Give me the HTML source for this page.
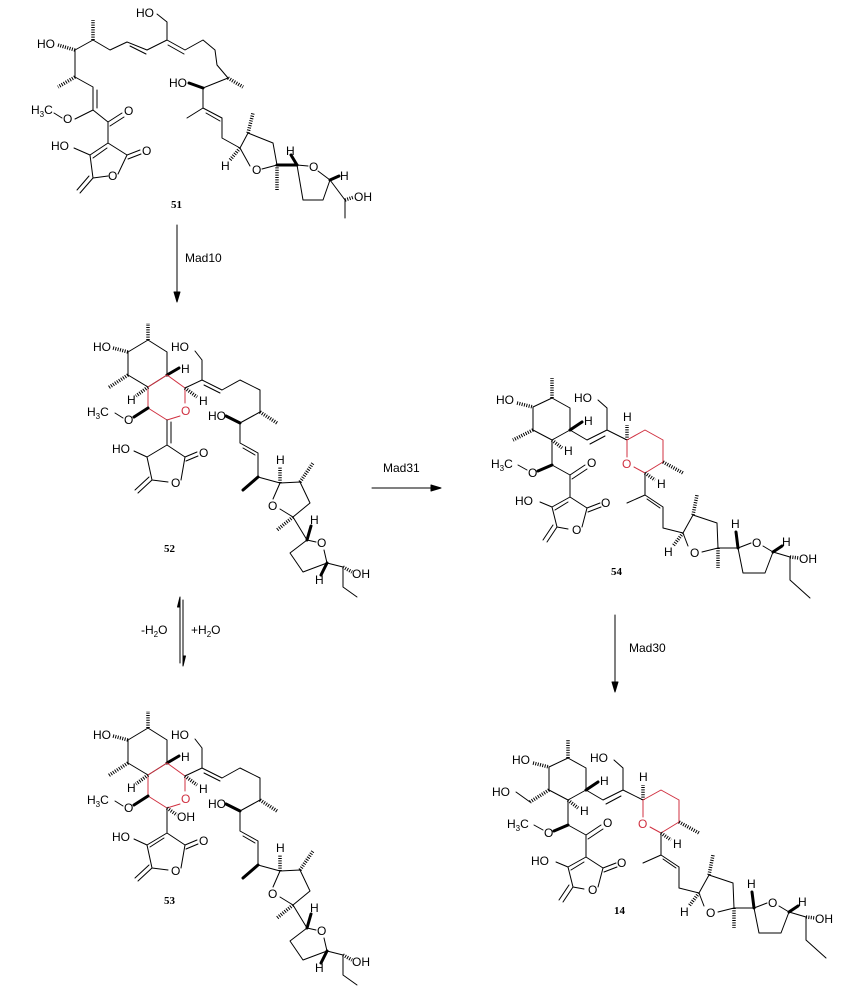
<!DOCTYPE html>
<html><head><meta charset="utf-8"><style>
html,body{margin:0;padding:0;background:#fff}
svg{display:block}
line,polyline,polygon{stroke:#000;stroke-width:1;fill:none;stroke-linecap:round;stroke-linejoin:round}
.r{stroke:#d03040}
.h{stroke-width:3.5;stroke-dasharray:1 1.4;stroke-linecap:butt}
.w{stroke-width:3}
text{font-family:"Liberation Sans",sans-serif;font-size:12px;fill:#000}
.ro{fill:#d03040}
.lb{font-family:"Liberation Serif",serif;font-weight:bold;font-size:11px}
</style></head><body>
<svg width="852" height="1007" viewBox="0 0 852 1007" xmlns="http://www.w3.org/2000/svg">
<!-- ===== 51 ===== -->
<g>
<text x="37" y="48">HO</text>
<line class="h" x1="58" y1="45" x2="75" y2="50"/>
<polyline points="75,50 93,40 110,50 127,42 147,50 167,40"/>
<line x1="130" y1="46" x2="146" y2="54"/>
<line class="h" x1="93" y1="40" x2="93" y2="20"/>
<polyline points="167,40 167,22 157,14"/>
<text x="136" y="17">HO</text>
<polyline points="167,40 185,50 203,40 215,50 217,65 228,78"/>
<line x1="168" y1="45" x2="184" y2="54"/>
<line class="h" x1="228" y1="78" x2="243" y2="87"/>
<line x1="228" y1="78" x2="203" y2="88"/>
<line class="w" x1="203" y1="88" x2="189" y2="83"/>
<text x="169" y="87">HO</text>
<polyline points="203,88 203,108 222,118 222,138 240,148"/>
<line x1="203" y1="108" x2="187" y2="118"/>
<line x1="206" y1="113" x2="220" y2="121"/>
<polyline points="240,148 248,133 273,143 277,165 262,169"/>
<line x1="250" y1="166" x2="240" y2="148"/>
<text x="252" y="174">O</text>
<line class="h" x1="240" y1="148" x2="230" y2="160"/>
<text x="221" y="170">H</text>
<line class="h" x1="248" y1="133" x2="253" y2="113"/>
<line class="h" x1="277" y1="165" x2="277" y2="190"/>
<line class="w" x1="277" y1="165" x2="297" y2="165"/>
<polyline points="297,165 308,166"/>
<text x="309" y="171">O</text>
<polyline points="318,171 330,180 323,200 303,200 297,165"/>
<line class="w" x1="297" y1="165" x2="291" y2="155"/>
<text x="286" y="155">H</text>
<line class="w" x1="330" y1="180" x2="339" y2="176"/>
<text x="340" y="180">H</text>
<polyline points="330,180 345,200 345,218"/>
<line class="h" x1="345" y1="200" x2="354" y2="197"/>
<text x="354" y="201">OH</text>
<polyline points="75,50 75,77 93,87 93,110"/>
<line x1="97" y1="90" x2="97" y2="108"/>
<line class="h" x1="75" y1="77" x2="58" y2="87"/>
<line x1="93" y1="110" x2="75" y2="119"/>
<text x="63" y="123">O</text>
<line x1="62" y1="118" x2="54" y2="113"/>
<text x="31" y="114">H<tspan font-size="8" dy="3">3</tspan><tspan dy="-3">C</tspan></text>
<polyline points="93,110 108,122 108,143"/>
<line x1="108" y1="122" x2="122" y2="113"/>
<line x1="110" y1="126" x2="124" y2="117"/>
<text x="124" y="115">O</text>
<polyline points="108,143 90,155 93,178 108,176"/>
<line x1="107" y1="148" x2="93" y2="158"/>
<text x="108" y="180">O</text>
<polyline points="118,174 127,155 108,143"/>
<line x1="127" y1="155" x2="140" y2="150"/>
<line x1="128" y1="159" x2="141" y2="154"/>
<text x="142" y="155">O</text>
<line x1="90" y1="155" x2="74" y2="148"/>
<text x="51" y="150">HO</text>
<line x1="93" y1="178" x2="80" y2="193"/>
<line x1="89" y1="176" x2="77" y2="190"/>
<text class="lb" x="171" y="208">51</text>
</g>

<!-- arrows -->
<line x1="177" y1="225" x2="177" y2="298"/>
<polygon points="177,302 174,292 180,292" style="fill:#000"/>
<text x="185" y="262">Mad10</text>
<line x1="372" y1="488" x2="436" y2="488"/>
<polygon points="441,488 431,485 431,491" style="fill:#000"/>
<text x="383" y="472">Mad31</text>
<line x1="615" y1="615" x2="615" y2="688"/>
<polygon points="615,692 612,682 618,682" style="fill:#000"/>
<text x="629" y="652">Mad30</text>
<line x1="180" y1="600" x2="180" y2="663"/>
<polygon points="180,597 177.5,607 180,607" style="fill:#000"/>
<line x1="183" y1="600" x2="183" y2="663"/>
<polygon points="183,666 185.5,656 183,656" style="fill:#000"/>
<text x="141" y="634">-H<tspan font-size="8" dy="3">2</tspan><tspan dy="-3">O</tspan></text>
<text x="191" y="634">+H<tspan font-size="8" dy="3">2</tspan><tspan dy="-3">O</tspan></text>

<!-- ===== 52 ===== -->
<g>
<text x="93" y="351">HO</text>
<line class="h" x1="113" y1="348" x2="128" y2="352"/>
<polygon points="128,352 148,340 167,352 167,375 148,387 128,375"/>
<line class="h" x1="148" y1="340" x2="148" y2="323"/>
<line class="h" x1="128" y1="375" x2="108" y2="388"/>
<line class="w" x1="167" y1="375" x2="179" y2="368"/>
<text x="181" y="373">H</text>
<polyline class="r" points="167,375 185,388 185,403"/>
<text class="ro" x="181" y="415">O</text>
<polyline class="r" points="180,416 167,420 148,408 148,387 167,375"/>
<line class="h" x1="148" y1="387" x2="136" y2="396"/>
<text x="127" y="404">H</text>
<line class="w" x1="148" y1="408" x2="134" y2="417"/>
<text x="124" y="424">O</text>
<line x1="123" y1="418" x2="115" y2="413"/>
<text x="87" y="416">H<tspan font-size="8" dy="3">3</tspan><tspan dy="-3">C</tspan></text>
<line x1="167" y1="420" x2="167" y2="445"/>
<line x1="171" y1="422" x2="171" y2="443"/>
<polyline points="167,445 147,457 152,480 168,482"/>
<text x="171" y="487">O</text>
<polyline points="181,480 185,457 167,445"/>
<line x1="185" y1="457" x2="197" y2="452"/>
<line x1="186" y1="461" x2="198" y2="456"/>
<text x="199" y="457">O</text>
<line x1="147" y1="457" x2="134" y2="451"/>
<text x="112" y="453">HO</text>
<line x1="152" y1="480" x2="138" y2="493"/>
<line x1="149" y1="477" x2="135" y2="490"/>
<polyline points="185,388 202,380 202,360 195,351"/>
<text x="171" y="351">HO</text>
<line class="h" x1="185" y1="388" x2="197" y2="397"/>
<text x="199" y="405">H</text>
<polyline points="202,380 222,390 240,380 260,390 260,412 240,423"/>
<line x1="204" y1="385" x2="220" y2="393"/>
<line class="h" x1="260" y1="412" x2="277" y2="423"/>
<line class="w" x1="240" y1="423" x2="226" y2="416"/>
<text x="208" y="420">HO</text>
<polyline points="240,423 240,443 258,453 258,477 280,483"/>
<line x1="243" y1="448" x2="255" y2="455"/>
<line class="w" x1="258" y1="477" x2="243" y2="490"/>
<polyline points="280,483 300,482 310,503 293,517 280,509"/>
<text x="268" y="510">O</text>
<line x1="273" y1="499" x2="280" y2="483"/>
<line class="h" x1="280" y1="483" x2="280" y2="467"/>
<text x="276" y="464">H</text>
<line class="h" x1="300" y1="482" x2="313" y2="463"/>
<line class="h" x1="293" y1="517" x2="277" y2="530"/>
<line x1="293" y1="517" x2="307" y2="540"/>
<line class="w" x1="307" y1="540" x2="311" y2="526"/>
<text x="310" y="524">H</text>
<line x1="307" y1="540" x2="316" y2="542"/>
<text x="317" y="547">O</text>
<polyline points="324,550 327,563 303,572 290,553 307,540"/>
<line class="w" x1="327" y1="563" x2="321" y2="575"/>
<text x="315" y="584">H</text>
<polyline points="327,563 343,567 343,587 357,597"/>
<line class="h" x1="343" y1="567" x2="352" y2="572"/>
<text x="352" y="578">OH</text>
<text class="lb" x="164" y="552">52</text>
</g>

<!-- ===== 53 ===== -->
<g transform="translate(0,388)">
<text x="93" y="351">HO</text>
<line class="h" x1="113" y1="348" x2="128" y2="352"/>
<polygon points="128,352 148,340 167,352 167,375 148,387 128,375"/>
<line class="h" x1="148" y1="340" x2="148" y2="323"/>
<line class="h" x1="128" y1="375" x2="108" y2="388"/>
<line class="w" x1="167" y1="375" x2="179" y2="368"/>
<text x="181" y="373">H</text>
<polyline class="r" points="167,375 185,388 185,403"/>
<text class="ro" x="181" y="415">O</text>
<polyline class="r" points="180,416 167,420 148,408 148,387 167,375"/>
<line class="h" x1="148" y1="387" x2="136" y2="396"/>
<text x="127" y="404">H</text>
<line class="w" x1="148" y1="408" x2="134" y2="417"/>
<text x="124" y="424">O</text>
<line x1="123" y1="418" x2="115" y2="413"/>
<text x="87" y="416">H<tspan font-size="8" dy="3">3</tspan><tspan dy="-3">C</tspan></text>
<line class="h" x1="167" y1="420" x2="177" y2="427"/>
<text x="177" y="433">OH</text>
<line x1="167" y1="420" x2="167" y2="445"/>
<polyline points="167,445 147,457 152,480 168,482"/>
<line x1="164" y1="450" x2="150" y2="459"/>
<text x="171" y="487">O</text>
<polyline points="181,480 185,457 167,445"/>
<line x1="185" y1="457" x2="197" y2="452"/>
<line x1="186" y1="461" x2="198" y2="456"/>
<text x="199" y="457">O</text>
<line x1="147" y1="457" x2="134" y2="451"/>
<text x="112" y="453">HO</text>
<line x1="152" y1="480" x2="138" y2="493"/>
<line x1="149" y1="477" x2="135" y2="490"/>
<polyline points="185,388 202,380 202,360 195,351"/>
<text x="171" y="351">HO</text>
<line class="h" x1="185" y1="388" x2="197" y2="397"/>
<text x="199" y="405">H</text>
<polyline points="202,380 222,390 240,380 260,390 260,412 240,423"/>
<line x1="204" y1="385" x2="220" y2="393"/>
<line class="h" x1="260" y1="412" x2="277" y2="423"/>
<line class="w" x1="240" y1="423" x2="226" y2="416"/>
<text x="208" y="420">HO</text>
<polyline points="240,423 240,443 258,453 258,477 280,483"/>
<line x1="243" y1="448" x2="255" y2="455"/>
<line class="w" x1="258" y1="477" x2="243" y2="490"/>
<polyline points="280,483 300,482 310,503 293,517 280,509"/>
<text x="268" y="510">O</text>
<line x1="273" y1="499" x2="280" y2="483"/>
<line class="h" x1="280" y1="483" x2="280" y2="467"/>
<text x="276" y="464">H</text>
<line class="h" x1="300" y1="482" x2="313" y2="463"/>
<line class="h" x1="293" y1="517" x2="277" y2="530"/>
<line x1="293" y1="517" x2="307" y2="540"/>
<line class="w" x1="307" y1="540" x2="311" y2="526"/>
<text x="310" y="524">H</text>
<line x1="307" y1="540" x2="316" y2="542"/>
<text x="317" y="547">O</text>
<polyline points="324,550 327,563 303,572 290,553 307,540"/>
<line class="w" x1="327" y1="563" x2="321" y2="575"/>
<text x="315" y="584">H</text>
<polyline points="327,563 343,567 343,587 357,597"/>
<line class="h" x1="343" y1="567" x2="352" y2="572"/>
<text x="352" y="578">OH</text>
</g>
<text class="lb" x="164" y="904">53</text>

<!-- ===== 54 ===== -->
<g>
<text x="496" y="404">HO</text>
<line class="h" x1="517" y1="403" x2="533" y2="407"/>
<polygon points="533,407 552,398 570,408 570,430 552,440 533,430"/>
<line class="h" x1="552" y1="398" x2="552" y2="378"/>
<line class="h" x1="533" y1="430" x2="513" y2="440"/>
<line class="w" x1="570" y1="430" x2="582" y2="422"/>
<text x="584" y="425">H</text>
<line class="h" x1="552" y1="440" x2="562" y2="448"/>
<text x="564" y="455">H</text>
<line x1="552" y1="440" x2="552" y2="465"/>
<line class="w" x1="552" y1="465" x2="538" y2="471"/>
<text x="528" y="477">O</text>
<line x1="527" y1="470" x2="518" y2="465"/>
<text x="491" y="468">H<tspan font-size="8" dy="3">3</tspan><tspan dy="-3">C</tspan></text>
<polyline points="552,465 570,475 570,497"/>
<line x1="570" y1="475" x2="585" y2="465"/>
<line x1="572" y1="479" x2="587" y2="469"/>
<text x="587" y="467">O</text>
<polyline points="570,497 552,507 557,527 568,529"/>
<line x1="568" y1="502" x2="555" y2="510"/>
<text x="572" y="534">O</text>
<polyline points="582,527 587,508 570,497"/>
<line x1="587" y1="508" x2="600" y2="503"/>
<line x1="588" y1="512" x2="601" y2="507"/>
<text x="601" y="507">O</text>
<line x1="552" y1="507" x2="540" y2="502"/>
<text x="515" y="505">HO</text>
<line x1="557" y1="527" x2="547" y2="542"/>
<line x1="553" y1="525" x2="543" y2="540"/>
<polyline points="570,430 587,440 607,430 607,408 598,400"/>
<line x1="590" y1="444" x2="605" y2="436"/>
<text x="574" y="402">HO</text>
<line x1="607" y1="430" x2="627" y2="440"/>
<line class="h" x1="627" y1="440" x2="627" y2="425"/>
<text x="623" y="421">H</text>
<polyline class="r" points="627,440 645,430 663,440 663,462 645,473 634,467"/>
<text class="ro" x="622" y="468">O</text>
<line class="r" x1="627" y1="457" x2="627" y2="440"/>
<line class="h" x1="663" y1="462" x2="683" y2="473"/>
<line class="h" x1="645" y1="473" x2="655" y2="480"/>
<text x="657" y="488">H</text>
<polyline points="645,473 645,495 663,507 663,528 683,533"/>
<line x1="645" y1="495" x2="627" y2="503"/>
<line x1="647" y1="499" x2="660" y2="508"/>
<polyline points="683,533 693,515 717,523 718,548 702,552"/>
<text x="690" y="557">O</text>
<line x1="688" y1="546" x2="683" y2="533"/>
<line class="h" x1="693" y1="515" x2="697" y2="495"/>
<line class="h" x1="683" y1="533" x2="673" y2="546"/>
<text x="664" y="556">H</text>
<line class="h" x1="718" y1="548" x2="718" y2="568"/>
<line x1="718" y1="548" x2="738" y2="548"/>
<line class="w" x1="738" y1="548" x2="736" y2="532"/>
<text x="731" y="528">H</text>
<line x1="738" y1="548" x2="751" y2="543"/>
<text x="752" y="547">O</text>
<polyline points="763,546 773,552 765,573 743,573 738,548"/>
<line class="w" x1="773" y1="552" x2="782" y2="546"/>
<text x="782" y="546">H</text>
<polyline points="773,552 790,557 790,580 810,598"/>
<line class="h" x1="790" y1="557" x2="799" y2="558"/>
<text x="799" y="563">OH</text>
<text class="lb" x="611" y="575">54</text>
</g>

<!-- ===== 14 ===== -->
<g transform="translate(16,360)">
<text x="496" y="404">HO</text>
<line class="h" x1="517" y1="403" x2="533" y2="407"/>
<polygon points="533,407 552,398 570,408 570,430 552,440 533,430"/>
<line class="h" x1="552" y1="398" x2="552" y2="380"/>
<line class="h" x1="533" y1="430" x2="514" y2="442"/>
<line x1="514" y1="442" x2="500" y2="432"/>
<text x="476" y="436">HO</text>
<line class="w" x1="570" y1="430" x2="582" y2="422"/>
<text x="584" y="425">H</text>
<line class="h" x1="552" y1="440" x2="562" y2="448"/>
<text x="564" y="455">H</text>
<line x1="552" y1="440" x2="552" y2="465"/>
<line class="w" x1="552" y1="465" x2="538" y2="471"/>
<text x="528" y="477">O</text>
<line x1="527" y1="470" x2="518" y2="465"/>
<text x="491" y="468">H<tspan font-size="8" dy="3">3</tspan><tspan dy="-3">C</tspan></text>
<polyline points="552,465 570,475 570,497"/>
<line x1="570" y1="475" x2="585" y2="465"/>
<line x1="572" y1="479" x2="587" y2="469"/>
<text x="587" y="467">O</text>
<polyline points="570,497 552,507 557,527 568,529"/>
<line x1="568" y1="502" x2="555" y2="510"/>
<text x="572" y="534">O</text>
<polyline points="582,527 587,508 570,497"/>
<line x1="587" y1="508" x2="600" y2="503"/>
<line x1="588" y1="512" x2="601" y2="507"/>
<text x="601" y="507">O</text>
<line x1="552" y1="507" x2="540" y2="502"/>
<text x="515" y="505">HO</text>
<line x1="557" y1="527" x2="547" y2="542"/>
<line x1="553" y1="525" x2="543" y2="540"/>
<polyline points="570,430 587,440 607,430 607,408 598,400"/>
<line x1="590" y1="444" x2="605" y2="436"/>
<text x="574" y="402">HO</text>
<line x1="607" y1="430" x2="627" y2="440"/>
<line class="h" x1="627" y1="440" x2="627" y2="425"/>
<text x="623" y="421">H</text>
<polyline class="r" points="627,440 645,430 663,440 663,462 645,473 634,467"/>
<text class="ro" x="622" y="468">O</text>
<line class="r" x1="627" y1="457" x2="627" y2="440"/>
<line class="h" x1="663" y1="462" x2="683" y2="473"/>
<line class="h" x1="645" y1="473" x2="655" y2="480"/>
<text x="657" y="488">H</text>
<polyline points="645,473 645,495 663,507 663,528 683,533"/>
<line x1="645" y1="495" x2="627" y2="503"/>
<line x1="647" y1="499" x2="660" y2="508"/>
<polyline points="683,533 693,515 717,523 718,548 702,552"/>
<text x="690" y="557">O</text>
<line x1="688" y1="546" x2="683" y2="533"/>
<line class="h" x1="693" y1="515" x2="697" y2="495"/>
<line class="h" x1="683" y1="533" x2="673" y2="546"/>
<text x="664" y="556">H</text>
<line class="h" x1="718" y1="548" x2="718" y2="568"/>
<line x1="718" y1="548" x2="738" y2="548"/>
<line class="w" x1="738" y1="548" x2="736" y2="532"/>
<text x="731" y="528">H</text>
<line x1="738" y1="548" x2="751" y2="543"/>
<text x="752" y="547">O</text>
<polyline points="763,546 773,552 765,573 743,573 738,548"/>
<line class="w" x1="773" y1="552" x2="782" y2="546"/>
<text x="782" y="546">H</text>
<polyline points="773,552 790,557 790,580 810,598"/>
<line class="h" x1="790" y1="557" x2="799" y2="558"/>
<text x="799" y="563">OH</text>
</g>
<text class="lb" x="614" y="914">14</text>
</svg>
</body></html>
